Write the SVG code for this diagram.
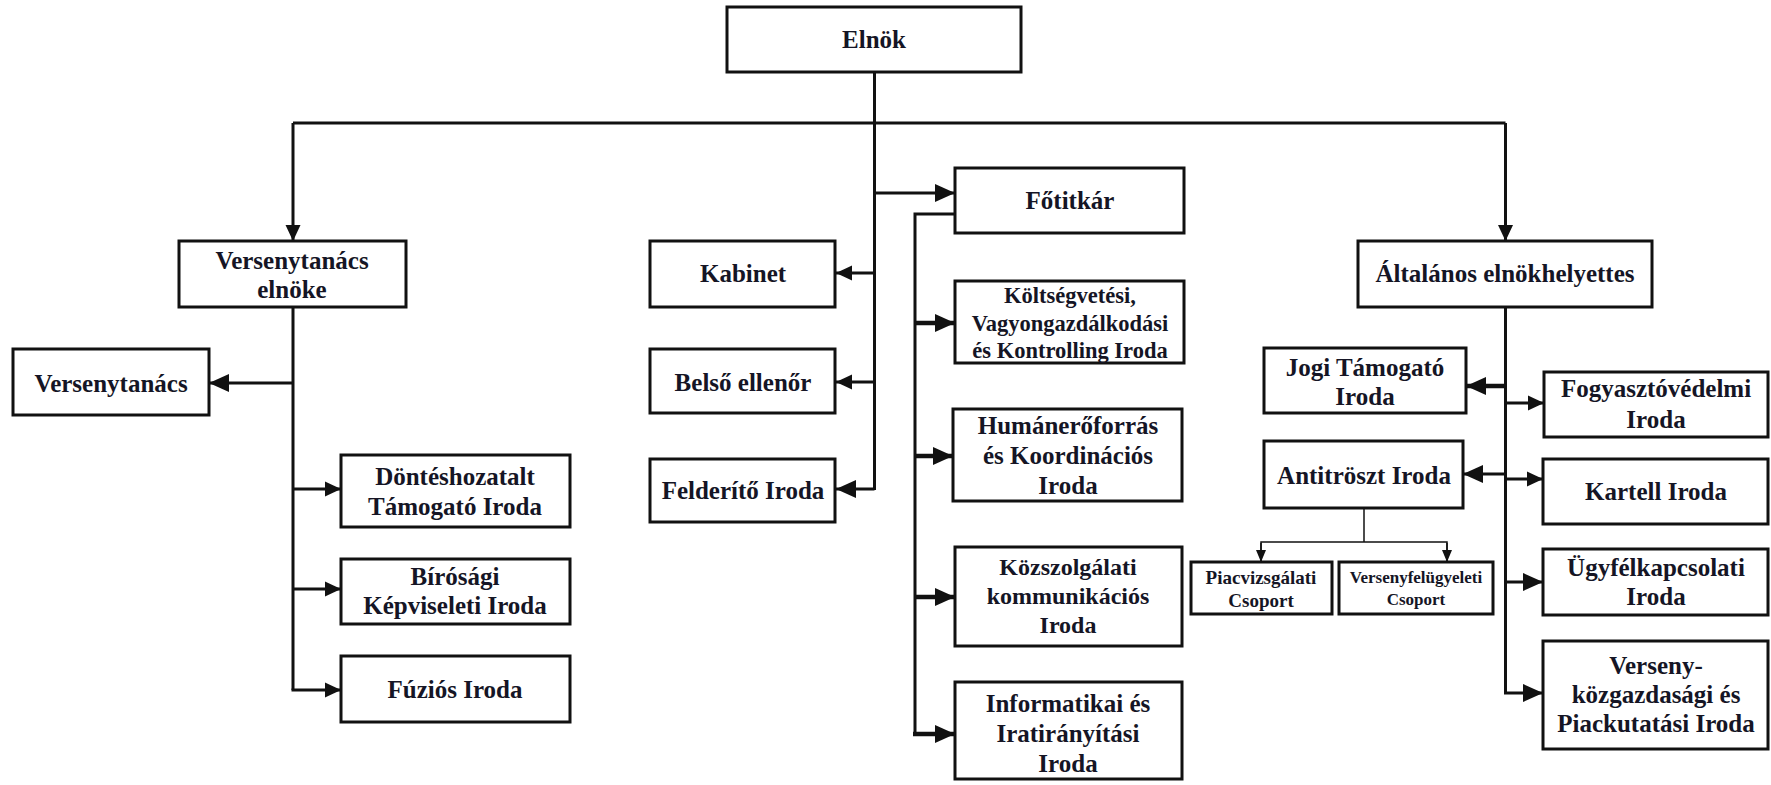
<svg xmlns="http://www.w3.org/2000/svg" width="1771" height="785" viewBox="0 0 1771 785">
<style>
.box{fill:#fff;stroke:#111;stroke-width:3}
.t text{font-family:'Liberation Serif','Times New Roman','DejaVu Serif',serif;font-weight:700;font-size:25px;fill:#151525;text-anchor:middle;dominant-baseline:central}
.c{fill:none;stroke:#111;stroke-width:3}
.ct{fill:none;stroke:#111;stroke-width:4.5}
.cn{fill:none;stroke:#111;stroke-width:1.5}
.t .s22{font-size:22.5px}
.t .s24{font-size:24px}
.t .s19{font-size:19px}
.t .s17{font-size:17px}
</style>
<defs>
<marker id="a" markerUnits="userSpaceOnUse" markerWidth="16" markerHeight="16" viewBox="0 0 16 16" refX="16" refY="8" orient="auto"><path d="M0,0.5 L16,8 L0,15.5 z" fill="#111"/></marker>
<marker id="b" markerUnits="userSpaceOnUse" markerWidth="20" markerHeight="20" viewBox="0 0 20 20" refX="20" refY="10" orient="auto"><path d="M0,1 L20,10 L0,19 z" fill="#111"/></marker>
<marker id="c" markerUnits="userSpaceOnUse" markerWidth="12" markerHeight="12" viewBox="0 0 12 12" refX="12" refY="6" orient="auto"><path d="M0,1 L12,6 L0,11 z" fill="#111"/></marker>
</defs>
<g id="connectors">
<path class="c" d="M874.5 72 V490"/>
<path class="c" d="M293 123 H1505.5"/>
<path class="c" d="M293 123 V241" marker-end="url(#a)"/>
<path class="c" d="M1505.5 123 V241" marker-end="url(#a)"/>
<path class="c" d="M874.5 193 H955" marker-end="url(#b)"/>
<path class="c" d="M874.5 273 H836" marker-end="url(#a)"/>
<path class="c" d="M874.5 382 H836" marker-end="url(#a)"/>
<path class="c" d="M874.5 489 H836" marker-end="url(#b)"/>
<path class="c" d="M955 214 H915 V734"/>
<path class="ct" d="M915 323 H955" marker-end="url(#b)"/>
<path class="ct" d="M915 456 H953" marker-end="url(#b)"/>
<path class="ct" d="M915 597 H955" marker-end="url(#b)"/>
<path class="ct" d="M913 734 H955" marker-end="url(#b)"/>
<path class="c" d="M293 307 V690"/>
<path class="c" d="M293 383 H209" marker-end="url(#b)"/>
<path class="c" d="M293 489 H341" marker-end="url(#a)"/>
<path class="c" d="M293 589 H341" marker-end="url(#a)"/>
<path class="c" d="M291.5 690 H341" marker-end="url(#a)"/>
<path class="c" d="M1505.5 307 V693"/>
<path class="ct" d="M1505.5 386 H1466" marker-end="url(#b)"/>
<path class="c" d="M1505.5 474 H1463" marker-end="url(#b)"/>
<path class="c" d="M1505.5 403 H1544" marker-end="url(#a)"/>
<path class="c" d="M1505.5 479 H1543" marker-end="url(#a)"/>
<path class="c" d="M1505.5 582 H1543" marker-end="url(#b)"/>
<path class="c" d="M1504 693 H1543" marker-end="url(#b)"/>
<path class="cn" d="M1364 508 V542"/>
<path class="cn" d="M1261 562 V542 H1447 V562"/>
<path class="cn" d="M1261 543 V562" marker-end="url(#c)"/>
<path class="cn" d="M1447 543 V562" marker-end="url(#c)"/>
</g>
<g class="t">
<g id="elnok"><rect class="box" x="727" y="7" width="294" height="65"/><text x="874" y="39">Elnök</text></g>
<g id="vt-elnoke"><rect class="box" x="179" y="241" width="227" height="66"/><text x="292" y="260">Versenytanács</text><text x="292" y="289">elnöke</text></g>
<g id="versenytanacs"><rect class="box" x="13" y="349" width="196" height="66"/><text x="111" y="383">Versenytanács</text></g>
<g id="donteshozatalt"><rect class="box" x="341" y="455" width="229" height="72"/><text x="455" y="476">Döntéshozatalt</text><text x="455" y="506">Támogató Iroda</text></g>
<g id="birosagi"><rect class="box" x="341" y="559" width="229" height="65"/><text x="455" y="576">Bírósági</text><text x="455" y="605">Képviseleti Iroda</text></g>
<g id="fuzios"><rect class="box" x="341" y="656" width="229" height="66"/><text x="455" y="689">Fúziós Iroda</text></g>
<g id="kabinet"><rect class="box" x="650" y="241" width="185" height="66"/><text x="743" y="273">Kabinet</text></g>
<g id="belso"><rect class="box" x="650" y="349" width="185" height="64"/><text x="743" y="382">Belső ellenőr</text></g>
<g id="felderito"><rect class="box" x="650" y="459" width="185" height="63"/><text x="743" y="490">Felderítő Iroda</text></g>
<g id="fotitkar"><rect class="box" x="955" y="168" width="229" height="65"/><text x="1070" y="200">Főtitkár</text></g>
<g id="koltsegvetesi"><rect class="box" x="955" y="281" width="229" height="82"/><text class="s22" x="1070" y="295">Költségvetési,</text><text class="s22" x="1070" y="323">Vagyongazdálkodási</text><text class="s22" x="1070" y="350">és Kontrolling Iroda</text></g>
<g id="humaneroforras"><rect class="box" x="953" y="409" width="229" height="92"/><text x="1068" y="425">Humánerőforrás</text><text x="1068" y="455">és Koordinációs</text><text x="1068" y="485">Iroda</text></g>
<g id="kozszolgalati"><rect class="box" x="955" y="547" width="227" height="99"/><text class="s24" x="1068" y="567">Közszolgálati</text><text class="s24" x="1068" y="596">kommunikációs</text><text class="s24" x="1068" y="625">Iroda</text></g>
<g id="informatikai"><rect class="box" x="955" y="682" width="227" height="97"/><text x="1068" y="703">Informatikai és</text><text x="1068" y="733">Iratirányítási</text><text x="1068" y="763">Iroda</text></g>
<g id="altalanos"><rect class="box" x="1358" y="241" width="294" height="66"/><text x="1505" y="273">Általános elnökhelyettes</text></g>
<g id="jogi"><rect class="box" x="1264" y="348" width="202" height="65"/><text x="1365" y="367">Jogi Támogató</text><text x="1365" y="396">Iroda</text></g>
<g id="fogyaszto"><rect class="box" x="1544" y="372" width="224" height="65"/><text x="1656" y="388">Fogyasztóvédelmi</text><text x="1656" y="419">Iroda</text></g>
<g id="antitroszt"><rect class="box" x="1264" y="441" width="199" height="67"/><text x="1364" y="475">Antitröszt Iroda</text></g>
<g id="kartell"><rect class="box" x="1543" y="459" width="225" height="65"/><text x="1656" y="491">Kartell Iroda</text></g>
<g id="piacvizsgalati"><rect class="box" x="1191" y="562" width="141" height="52"/><text class="s19" x="1261" y="577">Piacvizsgálati</text><text class="s19" x="1261" y="600">Csoport</text></g>
<g id="versenyfelugyeleti"><rect class="box" x="1339" y="562" width="154" height="52"/><text class="s17" x="1416" y="577">Versenyfelügyeleti</text><text class="s17" x="1416" y="599">Csoport</text></g>
<g id="ugyfel"><rect class="box" x="1543" y="549" width="225" height="66"/><text x="1656" y="567">Ügyfélkapcsolati</text><text x="1656" y="596">Iroda</text></g>
<g id="verseny-kozgazdasagi"><rect class="box" x="1543" y="641" width="225" height="108"/><text x="1656" y="665">Verseny-</text><text x="1656" y="694">közgazdasági és</text><text x="1656" y="723">Piackutatási Iroda</text></g>
</g>
</svg>
